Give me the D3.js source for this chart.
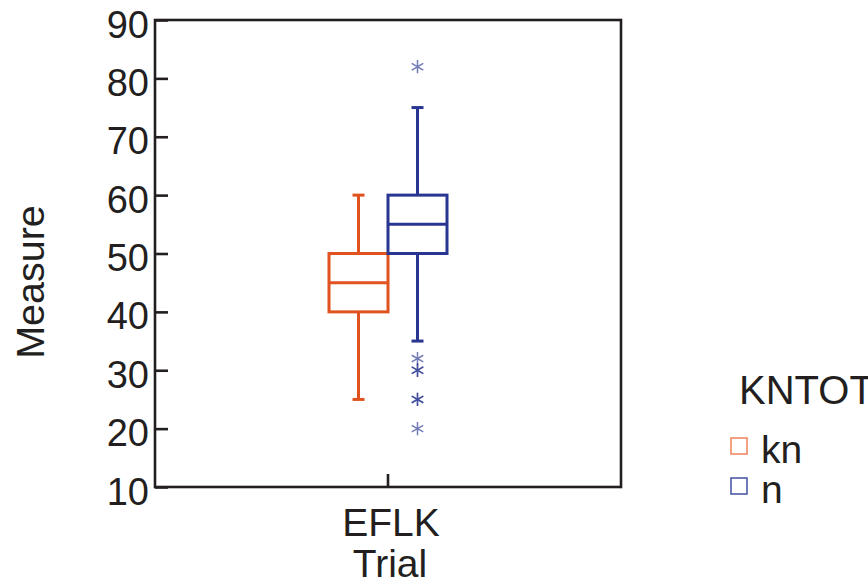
<!DOCTYPE html>
<html><head><meta charset="utf-8">
<script src="https://cdn.jsdelivr.net/npm/d3@7"></script>
<style>body{margin:0;background:#fff;} text{font-family:"Liberation Sans",Arial,sans-serif;fill:#231f20;}</style>
</head><body>
<svg id="c" width="868" height="585"></svg>
<script>
const categories = ["EFLK"];
const groups = ["kn", "n"];
const groupColors = ["#e0531f", "#283591"];
const legendColors = ["#ee8a62", "#4c5aa8"];
// box stats: whiskerLow, q1, median, q3, whiskerHigh
const knStats = [25, 40, 45, 50, 60];
const nStats = [35, 50, 55, 60, 75];
const knOutliers = [];
const nOutliers = [82, 32, 30, 30, 25, 25, 20];
const yTicks = [10, 20, 30, 40, 50, 60, 70, 80, 90];
const xTitle = "Trial", yTitle = "Measure", legendTitle = "KNTOT";

const stats = [knStats, nStats];
const outliers = [knOutliers, nOutliers];

const L = 155, R = 621, T = 20, B = 487;
const svg = d3.select("#c");
const y = d3.scaleLinear().domain([10, 90]).range([B, T]);
const x = d3.scaleBand().domain(categories).range([L, R]);
const boxW = 59;
const xg = d3.scaleBand().domain(groups).range([-boxW, boxW]);

// frame
svg.append("rect").attr("x", L).attr("y", T).attr("width", R - L).attr("height", B - T)
  .attr("fill", "none").attr("stroke", "#231f20").attr("stroke-width", 2.6);

// y axis
const ya = svg.append("g").attr("transform", `translate(${L},0)`)
  .call(d3.axisLeft(y).tickValues(yTicks).tickSize(-13).tickPadding(6));
ya.select(".domain").remove();
ya.selectAll("line").attr("stroke", "#231f20").attr("stroke-width", 2.6);
ya.selectAll("text").attr("font-size", 38).attr("dy", "0.45em").attr("fill", "#231f20")
  .style("font-family", "'Liberation Sans',Arial,sans-serif");

// x axis
const xa = svg.append("g").attr("transform", `translate(0,${B})`)
  .call(d3.axisBottom(x).tickSize(-13).tickPadding(0));
xa.select(".domain").remove();
xa.selectAll("line").attr("stroke", "#231f20").attr("stroke-width", 2.6);
xa.selectAll("text").attr("font-size", 39).attr("y", 49).attr("dy", 0).attr("dx", 3).attr("fill", "#231f20")
  .style("font-family", "'Liberation Sans',Arial,sans-serif");

svg.append("text").attr("x", x(categories[0]) + x.bandwidth() / 2 + 2).attr("y", 577)
  .attr("text-anchor", "middle").attr("font-size", 39).text(xTitle);
svg.append("text").attr("transform", "translate(44,282) rotate(-90)")
  .attr("text-anchor", "middle").attr("font-size", 39.5).text(yTitle);

// boxes
const cx0 = x(categories[0]) + x.bandwidth() / 2;
groups.forEach((g, i) => {
  const s = stats[i], col = groupColors[i];
  const x0 = cx0 + xg(g), x1 = x0 + xg.bandwidth(), cx = (x0 + x1) / 2;
  const gg = svg.append("g").attr("stroke", col).attr("stroke-width", 3).attr("fill", "none");
  gg.append("line").attr("x1", cx).attr("x2", cx).attr("y1", y(s[0])).attr("y2", y(s[1]));
  gg.append("line").attr("x1", cx).attr("x2", cx).attr("y1", y(s[3])).attr("y2", y(s[4]));
  gg.append("line").attr("x1", cx - 6).attr("x2", cx + 6).attr("y1", y(s[0])).attr("y2", y(s[0]));
  gg.append("line").attr("x1", cx - 6).attr("x2", cx + 6).attr("y1", y(s[4])).attr("y2", y(s[4]));
  gg.append("rect").attr("x", x0).attr("y", y(s[3])).attr("width", x1 - x0).attr("height", y(s[1]) - y(s[3]));
  gg.append("line").attr("x1", x0).attr("x2", x1).attr("y1", y(s[2])).attr("y2", y(s[2]));
  const sym = d3.symbol(d3.symbolAsterisk, 125);
  svg.append("g").selectAll("path").data(outliers[i]).join("path")
    .attr("transform", d => `translate(${cx},${y(d)})`)
    .attr("d", sym).attr("fill", "none").attr("stroke", col).attr("stroke-width", 1.5).attr("stroke-opacity", 0.65);
});

// legend
svg.append("text").attr("x", 739).attr("y", 404).attr("font-size", 40).text(legendTitle);
groups.forEach((g, i) => {
  const yy = 438 + i * 40;
  svg.append("rect").attr("x", 731).attr("y", yy).attr("width", 16).attr("height", 16)
    .attr("fill", "none").attr("stroke", legendColors[i]).attr("stroke-width", 1.6);
  svg.append("text").attr("x", 761).attr("y", yy + 25).attr("font-size", 39).text(g);
});
</script>
</body></html>
